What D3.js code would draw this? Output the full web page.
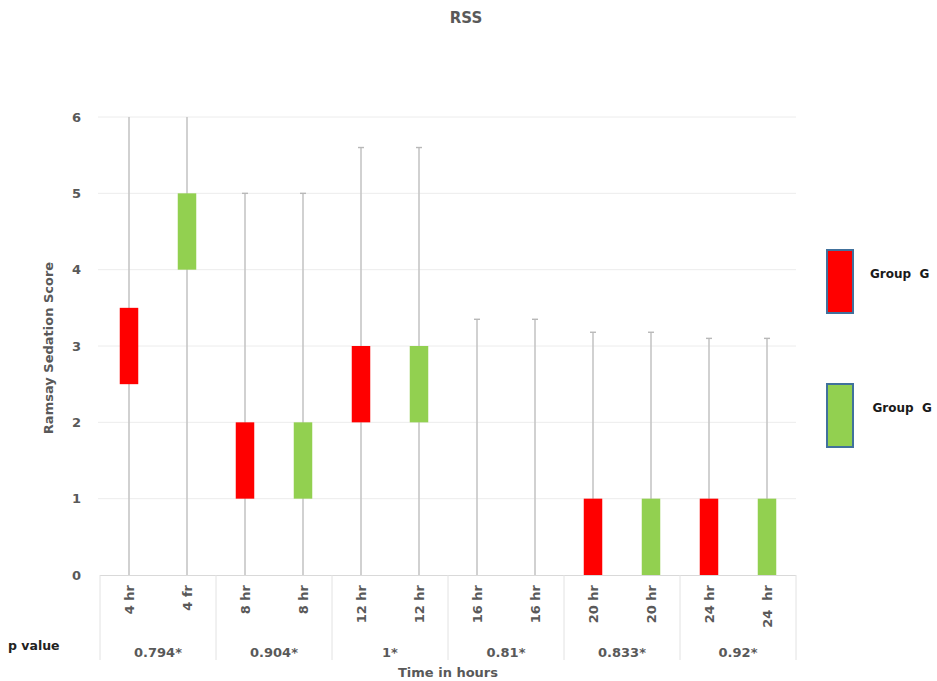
<!DOCTYPE html>
<html>
<head>
<meta charset="utf-8">
<script src="https://cdn.jsdelivr.net/npm/d3@7/dist/d3.min.js"></script>
<style>
  html, body { margin: 0; padding: 0; background: #fff; }
  svg { display: block; }
  text { font-family: "DejaVu Sans", Verdana, sans-serif; font-weight: bold; }
</style>
</head>
<body>
<svg id="chart" width="937" height="681"></svg>
<script>
// Time-point labels along the x axis (two per time point: Group G red, Group G green)
const categories = ["4 hr", "4 fr", "8 hr", "8 hr", "12 hr", "12 hr", "16 hr", "16 hr", "20 hr", "20 hr", "24 hr", "24  hr"];
// Series of each category: 0 = red group, 1 = green group
const seriesIndex = [0, 1, 0, 1, 0, 1, 0, 1, 0, 1, 0, 1];
// Box (interquartile) lower and upper bounds; null means no box drawn
const boxLow  = [2.5, 4, 1, 1, 2, 2, null, null, 0, 0, 0, 0];
const boxHigh = [3.5, 5, 2, 2, 3, 3, null, null, 1, 1, 1, 1];
// Whisker range (min / max)
const whiskerLow  = [0, 0, 0, 0, 0, 0, 0, 0, 0, 0, 0, 0];
const whiskerHigh = [6, 6, 5, 5, 5.6, 5.6, 3.35, 3.35, 3.18, 3.18, 3.1, 3.1];
// p values, one per time point
const pValues = ["0.794*", "0.904*", "1*", "0.81*", "0.833*", "0.92*"];
// Y axis ticks
const yTicks = [0, 1, 2, 3, 4, 5, 6];
// Legend
const legendLabels = ["Group  G", "Group  G"];
const seriesColors = ["#ff0000", "#92d050"];

const svg = d3.select("#chart");
const plotLeft = 100, plotRight = 796, plotTop = 117, plotBottom = 575;

const y = d3.scaleLinear().domain([0, 6]).range([plotBottom, plotTop]);
const x = d3.scaleBand().domain(d3.range(categories.length)).range([plotLeft, plotRight]).padding(0);
const xGroup = d3.scaleBand().domain(d3.range(pValues.length)).range([plotLeft, plotRight]).padding(0);

// Title
svg.append("text").attr("x", 466).attr("y", 23).attr("text-anchor", "middle")
  .attr("font-size", 15).attr("fill", "#595959").text("RSS");

// Horizontal gridlines
svg.append("g").selectAll("line").data(yTicks.filter(d => d > 0)).join("line")
  .attr("x1", plotLeft - 2).attr("x2", plotRight)
  .attr("y1", d => y(d)).attr("y2", d => y(d))
  .attr("stroke", "#ececec").attr("stroke-width", 1);

// Y axis labels
const yAxis = svg.append("g").attr("transform", `translate(${plotLeft - 16},0)`)
  .call(d3.axisLeft(y).tickValues(yTicks).tickSize(0).tickFormat(d3.format("d")));
yAxis.select(".domain").remove();
yAxis.selectAll("text").attr("font-size", 13).attr("fill", "#595959")
  .attr("font-family", "DejaVu Sans, sans-serif").attr("font-weight", "bold");

// Y axis title
svg.append("text")
  .attr("transform", `translate(53,${(plotTop + plotBottom) / 2 + 2}) rotate(-90)`)
  .attr("text-anchor", "middle").attr("font-size", 13).attr("fill", "#595959")
  .text("Ramsay Sedation Score");

// Whiskers
const idx = d3.range(categories.length);
const cx = i => x(i) + x.bandwidth() / 2;
const wg = svg.append("g");
wg.selectAll("line.whisker").data(idx).join("line").attr("class", "whisker")
  .attr("x1", cx).attr("x2", cx)
  .attr("y1", i => y(whiskerLow[i])).attr("y2", i => y(whiskerHigh[i]))
  .attr("stroke", "#c6c6c6").attr("stroke-width", 1.6);
wg.selectAll("line.cap").data(idx.filter(i => whiskerHigh[i] < 6)).join("line").attr("class", "cap")
  .attr("x1", i => cx(i) - 3).attr("x2", i => cx(i) + 3)
  .attr("y1", i => y(whiskerHigh[i])).attr("y2", i => y(whiskerHigh[i]))
  .attr("stroke", "#b8b8b8").attr("stroke-width", 1.4);

// Boxes
const boxW = 18.5;
svg.append("g").selectAll("rect").data(idx.filter(i => boxLow[i] !== null)).join("rect")
  .attr("x", i => cx(i) - boxW / 2).attr("width", boxW)
  .attr("y", i => y(boxHigh[i])).attr("height", i => y(boxLow[i]) - y(boxHigh[i]))
  .attr("fill", i => seriesColors[seriesIndex[i]]);

// X axis baseline
svg.append("line").attr("x1", plotLeft).attr("x2", plotRight)
  .attr("y1", plotBottom + 0.5).attr("y2", plotBottom + 0.5)
  .attr("stroke", "#d9d9d9").attr("stroke-width", 1);

// Group dividers below the axis
svg.append("g").selectAll("line").data(d3.range(pValues.length + 1)).join("line")
  .attr("x1", i => i < pValues.length ? xGroup(i) : plotRight)
  .attr("x2", i => i < pValues.length ? xGroup(i) : plotRight)
  .attr("y1", plotBottom).attr("y2", 660)
  .attr("stroke", "#e2e2e2").attr("stroke-width", 1);

// Category labels (rotated)
const xAxis = svg.append("g").attr("transform", `translate(0,${plotBottom})`)
  .call(d3.axisBottom(x).tickSize(0).tickFormat(i => categories[i]));
xAxis.select(".domain").remove();
xAxis.selectAll("text")
  .attr("font-size", 13).attr("fill", "#595959")
  .attr("font-family", "DejaVu Sans, sans-serif").attr("font-weight", "bold")
  .style("white-space", "pre")
  .attr("transform", "rotate(-90)")
  .attr("x", -10).attr("y", 0).attr("dy", "0.36em")
  .attr("text-anchor", "end");

// p values
svg.append("g").selectAll("text").data(pValues).join("text")
  .attr("x", (d, i) => xGroup(i) + xGroup.bandwidth() / 2).attr("y", 657)
  .attr("text-anchor", "middle").attr("font-size", 13).attr("fill", "#595959")
  .text(d => d);

svg.append("text").attr("x", 8).attr("y", 650).attr("font-size", 12.5).attr("fill", "#222")
  .text("p value");

// X axis title
svg.append("text").attr("x", (plotLeft + plotRight) / 2).attr("y", 677).attr("text-anchor", "middle")
  .attr("font-size", 13).attr("fill", "#595959").text("Time in hours");

// Legend
const legend = svg.append("g");
const legendY = [250, 384];
legendLabels.forEach((lab, i) => {
  legend.append("rect").attr("x", 827).attr("y", legendY[i]).attr("width", 26).attr("height", 63)
    .attr("fill", seriesColors[i]).attr("stroke", "#41719c").attr("stroke-width", 2);
  legend.append("text").attr("x", 870 + i * 2.5).attr("y", legendY[i] + 28)
    .attr("font-size", 12).attr("fill", "#1a1a1a").style("white-space", "pre").text(lab);
});
</script>
</body>
</html>
